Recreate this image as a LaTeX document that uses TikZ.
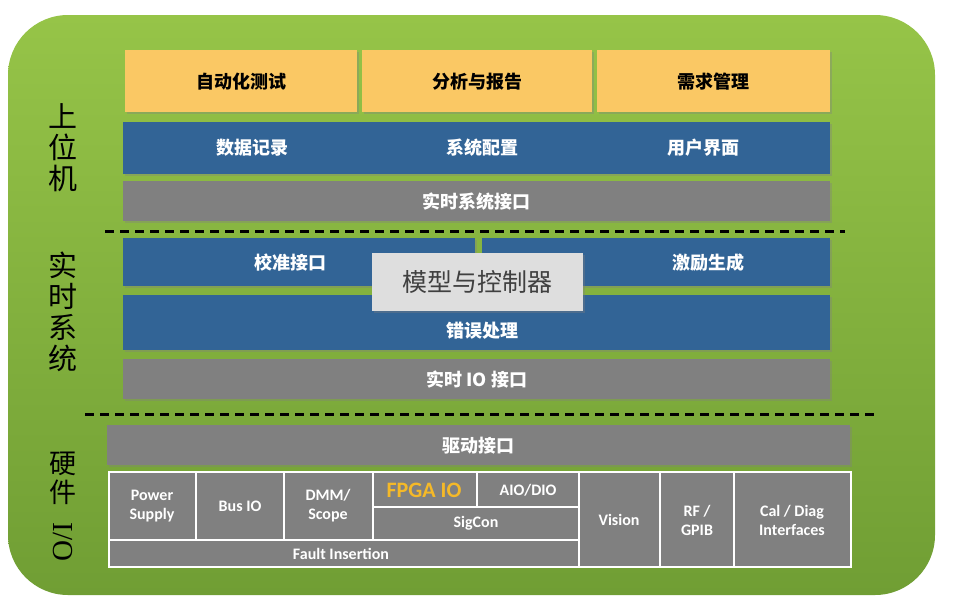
\documentclass[tikz,border=0pt]{standalone}
\usepackage{fontspec}
\setmainfont{Carlito}
\newfontfamily\cjk{Noto Sans CJK SC}
\newfontfamily\serifio{Liberation Serif}
\usetikzlibrary{shadows}
\definecolor{orgfill}{RGB}{250,200,100}
\definecolor{bluefill}{RGB}{50,100,150}
\definecolor{grayfill}{RGB}{128,128,128}
\definecolor{modfill}{RGB}{222,222,222}
\definecolor{greentop}{RGB}{150,196,72}
\definecolor{greenbot}{RGB}{112,158,52}
\definecolor{fpgaorg}{RGB}{245,185,40}
\tikzset{every picture/.style={line width=0.75pt}}
\tikzset{
  blk/.style={draw=none, anchor=north west, inner sep=0pt, text=white,
    drop shadow={opacity=0.35, shadow xshift=2pt, shadow yshift=-2pt}},
  cn/.style={font=\cjk\bfseries\fontsize{18}{20}\selectfont},
  en/.style={font=\bfseries\fontsize{16}{19}\selectfont, text=white, align=center},
  cell/.style={draw=white, line width=1.5pt, fill=grayfill},
  side/.style={font=\cjk\fontsize{29}{31}\selectfont, align=center},
  sep/.style={line width=3pt, dash pattern=on 9pt off 6pt}
}
\begin{document}
\begin{tikzpicture}[x=1pt,y=1pt,yscale=-1,xscale=1]
\useasboundingbox (0,0) rectangle (953,598);

%Background
\shade[top color=greentop, bottom color=greenbot, rounded corners=60pt] (8,15) rectangle (935,595);

%upper PC
\node[blk, fill=orgfill, text=black, cn, minimum width=232pt, minimum height=62pt] (auto) at (125,50) {自动化测试};
\node[blk, fill=orgfill, text=black, cn, minimum width=230pt, minimum height=62pt] (analysis) at (362,50) {分析与报告};
\node[blk, fill=orgfill, text=black, cn, minimum width=233pt, minimum height=62pt] (req) at (597,50) {需求管理};
\node[blk, fill=bluefill, minimum width=707pt, minimum height=52pt] (bluerow) at (123,122) {};
\node[cn, text=white] (datalog) at (252,148) {数据记录};
\node[cn, text=white] (sysconf) at (482,148) {系统配置};
\node[cn, text=white] (ui) at (703,148) {用户界面};
\node[blk, fill=grayfill, cn, minimum width=707pt, minimum height=40pt] (rtsys) at (123,181) {实时系统接口};

\coordinate (d1a) at (105,231);
\coordinate (d1b) at (845,231);
\draw[sep] (d1a) -- (d1b);

%real-time system
\node[blk, fill=bluefill, minimum width=352pt, minimum height=48pt] (calib) at (123,238) {};
\node[cn, text=white] (calibt) at (290,263) {校准接口};
\node[blk, fill=bluefill, minimum width=348pt, minimum height=48pt] (stim) at (482,238) {};
\node[cn, text=white] (stimt) at (708,263) {激励生成};
\node[blk, fill=bluefill, minimum width=707pt, minimum height=55pt] (err) at (123,295) {};
\node[cn, text=white] (errt) at (482,331) {错误处理};
\node[blk, fill=modfill, text=black!75, font=\cjk\fontsize{25}{27}\selectfont, minimum width=211pt, minimum height=58pt] (model) at (372,253) {模型与控制器};
\node[blk, fill=grayfill, cn, minimum width=707pt, minimum height=40pt] (rtio) at (123,359) {实时 IO 接口};

\coordinate (d2a) at (85,414);
\coordinate (d2b) at (878,414);
\draw[sep] (d2a) -- (d2b);

%hardware
\node[blk, fill=grayfill, cn, minimum width=743pt, minimum height=40pt] (drv) at (107,425) {驱动接口};

\draw[cell] (109,472) rectangle (196,540);
\draw[cell] (196,472) rectangle (284,540);
\draw[cell] (284,472) rectangle (373,540);
\draw[cell] (373,472) rectangle (477,507);
\draw[cell] (477,472) rectangle (579,507);
\draw[cell] (373,507) rectangle (579,540);
\draw[cell] (109,540) rectangle (579,567);
\draw[cell] (579,472) rectangle (660,567);
\draw[cell] (660,472) rectangle (734,567);
\draw[cell] (734,472) rectangle (851,567);
\node[en] (power) at (152,506) {Power\\Supply};
\node[en] (busio) at (240,506) {Bus IO};
\node[en] (dmm) at (328,506) {DMM/\\Scope};
\node[font=\bfseries\fontsize{22}{24}\selectfont, text=fpgaorg] (fpga) at (424,490) {FPGA IO};
\node[en] (aio) at (528,490) {AIO/DIO};
\node[en] (sigcon) at (476,523) {SigCon};
\node[en] (fault) at (341,554) {Fault Insertion};
\node[en] (vision) at (619,520) {Vision};
\node[en] (rf) at (697,520) {RF /\\GPIB};
\node[en] (cal) at (792,520) {Cal / Diag\\Interfaces};

%side labels
\node[side] (upper) at (63,148) {上\\位\\机};
\node[side] (rt) at (63,312) {实\\时\\系\\统};
\node[font=\cjk\fontsize{27}{29}\selectfont, align=center] (hw) at (63,478) {硬\\件};
\node[font=\serifio\fontsize{29}{31}\selectfont, rotate=-90] (hwio) at (63,542) {I/O};

\end{tikzpicture}
\end{document}
